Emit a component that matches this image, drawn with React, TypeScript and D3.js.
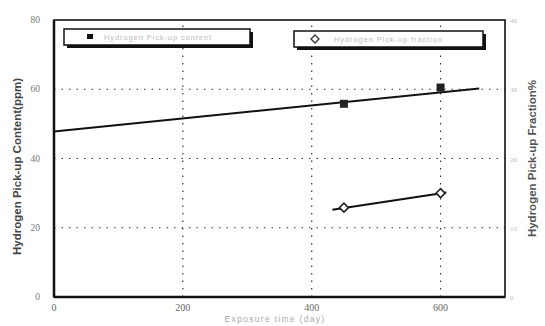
import React from 'react';
import * as d3 from 'd3';

// exposure time (day) vs. hydrogen pick-up
const contentDays = [450, 600];
const contentPpm = [55.8, 60.5];
const contentFitDays = [0, 660];
const contentFitPpm = [47.8, 60.2];

const fractionDays = [450, 600];
const fractionPct = [12.9, 15.0];
const fractionFitDays = [432, 609];
const fractionFitPct = [12.6, 15.1];

const xTicks = [0, 200, 400, 600];
const leftTicks = [0, 20, 40, 60, 80];
const rightTicks = [0, 10, 20, 30, 40];

const legendLabels = ['Hydrogen Pick-up content', 'Hydrogen Pick-up fraction'];

const W = 545;
const H = 326;
const margin = { top: 20, right: 40, bottom: 29, left: 54 };

const App = () => {
  const x = d3.scaleLinear().domain([0, 700]).range([margin.left, W - margin.right]);
  const yL = d3.scaleLinear().domain([0, 80]).range([H - margin.bottom, margin.top]);
  const yR = d3.scaleLinear().domain([0, 40]).range([H - margin.bottom, margin.top]);

  const line = d3.line<[number, number]>().x(d => d[0]).y(d => d[1]);
  const contentPath = line(contentFitDays.map((d, i) => [x(d), yL(contentFitPpm[i])]));
  const fractionPath = line(fractionFitDays.map((d, i) => [x(d), yR(fractionFitPct[i])]));

  const x0 = x(0), x1 = x(700), yb = yL(0), yt = yL(80);
  const font = '"Liberation Sans", Arial, sans-serif';
  const serif = '"Liberation Serif", "Times New Roman", serif';

  return (
    <svg width={W} height={H} style={{ position: 'absolute', left: 0, top: 0, background: '#fff' }}>
      {/* grid */}
      {leftTicks.filter(t => t > 0 && t < 80).map(t => (
        <line key={'gy' + t} x1={x0} x2={x1} y1={yL(t)} y2={yL(t)}
          stroke="#333" strokeWidth={1.2} strokeDasharray="1.5 6" />
      ))}
      {xTicks.filter(t => t > 0).map(t => (
        <line key={'gx' + t} x1={x(t)} x2={x(t)} y1={yb} y2={yt}
          stroke="#333" strokeWidth={1.2} strokeDasharray="1.5 6" />
      ))}

      {/* frame */}
      <rect x={x0} y={yt} width={x1 - x0} height={yb - yt} fill="none" stroke="#111" strokeWidth={1.6} />
      <line x1={x0} x2={x0} y1={yt} y2={yb} stroke="#111" strokeWidth={2.5} />
      <line x1={x0} x2={x1} y1={yb} y2={yb} stroke="#111" strokeWidth={2.5} />

      {/* ticks */}
      {leftTicks.map(t => (
        <text key={'lt' + t} x={x0 - 14} y={yL(t) + 3} textAnchor="end" fontSize={9.5}
          fontFamily={serif} fill="#777">{t}</text>
      ))}
      {rightTicks.map(t => (
        <text key={'rt' + t} x={x1 + 5} y={yR(t) + 3} textAnchor="start" fontSize={7}
          fontFamily={serif} fill="#bbb">{t}</text>
      ))}
      {xTicks.map(t => (
        <text key={'xt' + t} x={x(t)} y={yb + 14} textAnchor="middle" fontSize={10}
          fontFamily={serif} fill="#666">{t}</text>
      ))}

      {/* axis titles */}
      <text transform={`translate(21,${(yt + yb) / 2 + 8}) rotate(-90)`} textAnchor="middle"
        fontSize={11.5} fontWeight="bold" fontFamily={font} fill="#444">Hydrogen Pick-up Content(ppm)</text>
      <text transform={`translate(536,${(yt + yb) / 2}) rotate(-90)`} textAnchor="middle"
        fontSize={11.5} fontWeight="bold" fontFamily={font} fill="#555">Hydrogen Pick-up Fraction%</text>
      <text x={275} y={322} textAnchor="middle" fontSize={8.5} letterSpacing={1.3}
        fontFamily={font} fill="#aaa">Exposure time (day)</text>

      {/* series */}
      <path d={contentPath ?? ''} fill="none" stroke="#111" strokeWidth={2} />
      {contentDays.map((d, i) => (
        <rect key={'cs' + i} x={x(d) - 4} y={yL(contentPpm[i]) - 4} width={8} height={8} fill="#222" />
      ))}
      <path d={fractionPath ?? ''} fill="none" stroke="#111" strokeWidth={2} />
      {fractionDays.map((d, i) => {
        const cx = x(d), cy = yR(fractionPct[i]);
        return (
          <path key={'fd' + i} d={`M${cx},${cy - 4.5}L${cx + 4.5},${cy}L${cx},${cy + 4.5}L${cx - 4.5},${cy}Z`}
            fill="#fff" stroke="#222" strokeWidth={1.6} />
        );
      })}

      {/* legends */}
      {[{ lx: 64, ly: 29, w: 186, h: 16, label: legendLabels[0], sym: 'square' },
        { lx: 294, ly: 31, w: 189, h: 16, label: legendLabels[1], sym: 'diamond' }].map((l, i) => (
        <g key={'lg' + i}>
          <rect x={l.lx + 3} y={l.ly + 3} width={l.w} height={l.h} fill="#111" />
          <rect x={l.lx} y={l.ly} width={l.w} height={l.h} fill="#fff" stroke="#111" strokeWidth={1.5} />
          {l.sym === 'square'
            ? <rect x={l.lx + 23} y={l.ly + 5} width={6} height={5} fill="#111" />
            : <path d={`M${l.lx + 21},${l.ly + 4}l4,4l-4,4l-4,-4Z`} fill="#fff" stroke="#333" strokeWidth={1.3} />}
          <text x={l.lx + 40} y={l.ly + 11} fontSize={7.5} letterSpacing={0.9} fontFamily={font} fill="#bbb">{l.label}</text>
        </g>
      ))}
    </svg>
  );
};

export default App;
